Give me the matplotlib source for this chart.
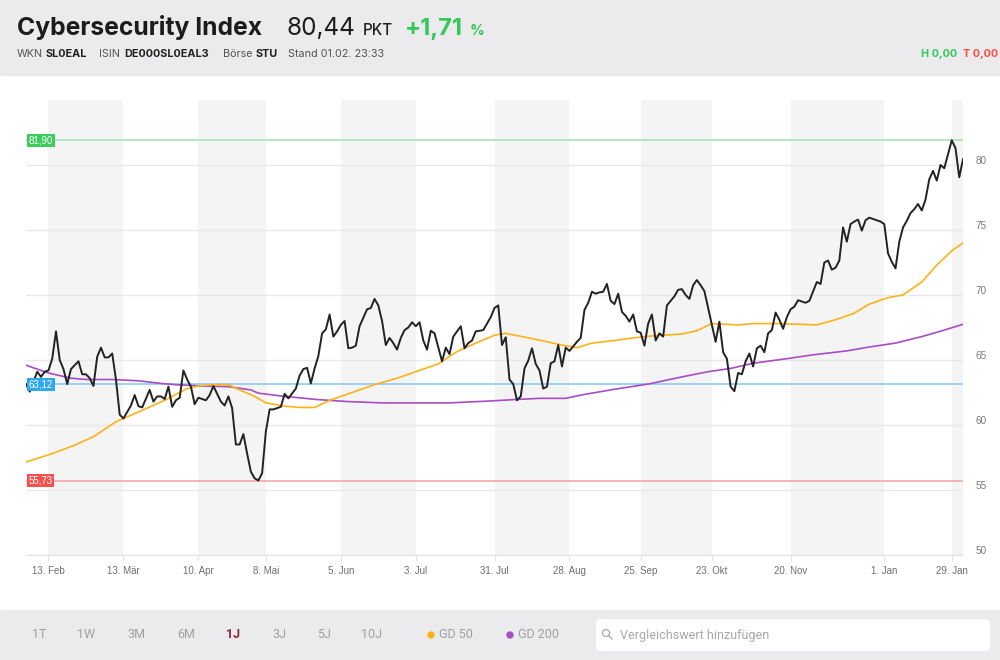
import numpy as np
import matplotlib
matplotlib.use('Agg')
import matplotlib.pyplot as plt
import matplotlib.transforms as mtransforms
from matplotlib.patches import Rectangle, FancyBboxPatch, Circle
from matplotlib.lines import Line2D

# --- data (trading-day index, value) ---
close_pts = [
    (0, 63.15), (1, 62.56), (3, 64.1), (4, 63.7), (5, 64.1), (6, 64.2), (7, 65.1), (8, 67.2), (9, 65.0), (10, 64.3),
    (11, 63.15), (12, 64.3), (14, 64.9), (15, 63.9), (16, 63.9), (17, 63.6), (18, 63.0), (19, 65.25), (20, 65.95), (21, 65.2),
    (22, 65.2), (23, 65.5), (24, 63.5), (25, 60.8), (26, 60.5), (28, 61.5), (29, 62.3), (30, 61.45), (31, 61.35), (33, 62.7),
    (34, 61.8), (35, 62.2), (36, 62.2), (37, 62.0), (38, 62.95), (39, 61.4), (40, 61.9), (41, 62.1), (42, 64.2), (43, 63.5),
    (44, 62.95), (45, 61.6), (46, 62.1), (47, 62.0), (48, 61.9), (49, 62.3), (50, 63.0), (51, 62.4), (52, 61.8), (53, 61.5),
    (54, 62.2), (55, 61.3), (56, 58.5), (57, 58.5), (58, 59.3), (59, 57.8), (60, 56.4), (61, 55.9), (62, 55.73), (63, 56.3),
    (64, 59.5), (65, 61.2), (66, 61.2), (67, 61.3), (68, 61.4), (69, 62.4), (70, 62.05), (72, 62.8), (73, 63.8), (74, 64.3),
    (75, 64.4), (76, 63.2), (77, 64.35), (78, 65.3), (79, 67.05), (80, 67.35), (81, 68.5), (82, 66.8), (83, 67.2), (84, 67.7),
    (85, 68.0), (86, 65.9), (87, 65.95), (88, 66.1), (89, 67.6), (91, 68.9), (92, 69.0), (93, 69.7), (94, 69.2), (95, 68.0),
    (96, 66.15), (97, 66.7), (98, 66.3), (99, 65.8), (100, 66.7), (101, 67.3), (102, 67.5), (103, 67.9), (104, 67.6), (105, 67.9),
    (106, 66.5), (107, 65.8), (108, 67.25), (109, 67.05), (111, 64.9), (112, 65.95), (113, 65.45), (114, 66.8), (115, 67.2), (116, 67.6),
    (117, 65.9), (118, 66.3), (119, 66.5), (120, 67.2), (122, 67.3), (123, 67.8), (124, 68.3), (125, 69.0), (126, 69.2), (127, 66.15),
    (128, 66.75), (129, 63.5), (130, 63.15), (131, 61.9), (132, 62.2), (133, 64.35), (134, 64.95), (135, 65.9), (136, 64.7), (137, 64.2),
    (138, 62.8), (139, 62.95), (140, 64.75), (141, 64.9), (142, 66.15), (143, 64.5), (144, 65.95), (145, 65.7), (147, 66.4), (148, 66.7),
    (149, 68.85), (150, 69.4), (151, 70.25), (152, 70.1), (153, 70.2), (154, 70.25), (155, 70.85), (156, 69.55), (157, 69.3), (158, 70.1),
    (159, 68.7), (160, 68.4), (161, 67.95), (162, 68.5), (163, 67.2), (164, 67.1), (165, 66.1), (166, 67.8), (167, 68.5), (168, 66.5),
    (169, 67.05), (170, 66.8), (171, 69.2), (173, 69.9), (174, 70.4), (175, 70.45), (176, 70.0), (177, 69.7), (178, 70.75), (179, 71.15),
    (180, 70.75), (181, 70.3), (183, 67.7), (184, 66.4), (185, 67.95), (186, 65.6), (187, 65.1), (188, 62.95), (189, 62.6), (190, 64.0),
    (191, 63.9), (192, 64.9), (193, 65.5), (194, 64.5), (195, 65.9), (196, 66.1), (197, 65.6), (198, 67.05), (199, 67.3), (200, 68.65),
    (201, 68.1), (202, 67.4), (203, 68.3), (204, 68.9), (205, 69.1), (206, 69.6), (207, 69.5), (208, 69.4), (209, 69.55), (211, 71.0),
    (212, 70.85), (213, 72.5), (214, 72.65), (215, 71.95), (216, 72.1), (217, 72.65), (218, 75.2), (219, 74.1), (220, 75.45), (221, 75.65),
    (222, 75.8), (223, 74.95), (224, 75.75), (225, 75.95), (227, 75.75), (228, 75.65), (229, 75.45), (230, 73.2), (231, 72.55), (232, 72.05),
    (233, 74.1), (234, 75.2), (235, 75.7), (236, 76.3), (237, 76.6), (238, 77.0), (239, 76.5), (240, 77.35), (241, 78.9), (242, 79.55),
    (243, 78.8), (244, 80.0), (245, 79.75), (247, 81.9), (248, 81.3), (249, 79.05), (250, 80.44),
]

gd50_pts = [
    (0, 57.15), (7, 57.8), (13, 58.45), (18, 59.1), (24, 60.25), (30, 61.0), (37, 61.9), (43, 62.8), (46, 63.0), (50, 63.1),
    (54, 63.1), (57, 62.7), (61, 62.2), (64, 61.7), (69, 61.45), (73, 61.35), (77, 61.35), (81, 61.9), (86, 62.4), (93, 63.1),
    (99, 63.6), (104, 64.1), (110, 64.7), (115, 65.65), (120, 66.3), (125, 66.9), (128, 67.05), (135, 66.65), (139, 66.4), (143, 66.15),
    (147, 65.95), (151, 66.3), (157, 66.5), (162, 66.7), (167, 66.85), (175, 67.0), (179, 67.25), (183, 67.8), (190, 67.7), (194, 67.8),
    (201, 67.8), (206, 67.75), (211, 67.7), (216, 68.1), (221, 68.6), (225, 69.3), (230, 69.8), (234, 70.0), (239, 71.0), (243, 72.3),
    (247, 73.4), (250, 74.0),
]

gd200_pts = [
    (0, 64.6), (6, 64.0), (12, 63.6), (16, 63.5), (23, 63.5), (30, 63.4), (36, 63.2), (40, 63.1), (47, 63.0), (54, 62.95),
    (60, 62.7), (62, 62.45), (69, 62.2), (78, 61.95), (86, 61.8), (95, 61.7), (104, 61.7), (113, 61.7), (124, 61.85), (130, 61.95),
    (137, 62.05), (144, 62.05), (148, 62.3), (157, 62.75), (166, 63.15), (175, 63.7), (182, 64.1), (188, 64.35), (194, 64.75), (203, 65.1),
    (210, 65.4), (219, 65.7), (225, 66.0), (232, 66.3), (239, 66.8), (245, 67.3), (250, 67.75),
]

tick_days = [6, 26, 46, 64, 84, 104, 125, 145, 164, 183, 204, 229, 247]
tick_labels = ["13. Feb", "13. Mär", "10. Apr", "8. Mai", "5. Jun", "3. Jul", "31. Jul",
               "28. Aug", "25. Sep", "23. Okt", "20. Nov", "1. Jan", "29. Jan"]

high_val, ref_val, low_val = 81.90, 63.12, 55.73

# --- figure ---
W, H = 1000, 660
fig = plt.figure(figsize=(10, 6.6), dpi=100, facecolor='white')
ident = mtransforms.IdentityTransform()

def fx(x):
    return x / W

def fy(y):
    return 1 - y / H

# header and footer bars
fig.add_artist(Rectangle((0, 660 - 75), 1000, 75, transform=ident, color='#EBEBED', zorder=0))
fig.add_artist(Rectangle((0, 0), 1000, 50, transform=ident, color='#EBEBED', zorder=0))

ax = fig.add_axes([fx(26), 105 / H, (963 - 26) / W, 455 / H])
ax.set_xlim(0, 250)
ax.set_ylim(50, 85)
ax.set_facecolor('white')

# alternating month bands
edges = tick_days + [250]
for i in range(0, len(tick_days), 2):
    ax.axvspan(edges[i], edges[i + 1], color='#F4F4F4', lw=0, zorder=0)

ax.set_yticks([50, 55, 60, 65, 70, 75, 80])
ax.yaxis.tick_right()
ax.grid(axis='y', color='#E9E9E9', lw=1, zorder=1)
ax.tick_params(axis='y', length=0, pad=9, labelsize=7.2, labelcolor='#7A7A7A')
for lab in ax.get_yticklabels():
    lab.set_fontfamily('Liberation Sans')
    lab.set_transform(lab.get_transform() + mtransforms.ScaledTranslation(0, 5 / 100, fig.dpi_scale_trans))

ax.set_xticks(tick_days)
ax.set_xticklabels(tick_labels, fontfamily='Liberation Sans')
ax.tick_params(axis='x', length=4, color='#E3E3E3', pad=4, labelsize=7, labelcolor='#6E6E6E')

for s in ['top', 'left', 'right']:
    ax.spines[s].set_visible(False)
ax.spines['bottom'].set_color('#E3E3E3')

# reference lines
ax.axhline(high_val, color='#A7E5B5', lw=1.2, zorder=2)
ax.axhline(ref_val, color='#8ACBF6', lw=1.2, zorder=2)
ax.axhline(low_val, color='#F6A9A9', lw=1.2, zorder=2)

d200, v200 = zip(*gd200_pts)
d50, v50 = zip(*gd50_pts)
dc, vc = zip(*close_pts)
ax.plot(d200, v200, color='#A84CC6', lw=1.2, zorder=3)
ax.plot(d50, v50, color='#FBB315', lw=1.2, zorder=3)
ax.plot(dc, vc, color='#222222', lw=1.4, zorder=4)

blend = mtransforms.blended_transform_factory(ax.transAxes, ax.transData)
for val, col in [(high_val, '#3DCB5C'), (ref_val, '#2CA8F0'), (low_val, '#F4514E')]:
    ax.text(0.003, val, f"{val:.2f}".replace('.', ','), transform=blend, ha='left', va='center',
            fontsize=7, color='white', fontfamily='Liberation Sans', zorder=6,
            bbox=dict(boxstyle='square,pad=0.15', fc=col, ec='none'))

# --- header ---
hf = 'Inter'
fig.text(fx(17), fy(35), "Cybersecurity Index", fontsize=17.8, fontweight='bold', color='#1C1C1E',
         fontfamily=hf, va='baseline')
fig.text(fx(287), fy(35), "80,44", fontsize=17.5, color='#1C1C1E', fontfamily=hf, va='baseline')
fig.text(fx(363), fy(35), "PKT", fontsize=11, fontweight='medium', color='#1C1C1E', fontfamily=hf, va='baseline')
fig.text(fx(405), fy(35), "+1,71", fontsize=17, fontweight='bold', color='#34C759', fontfamily=hf, va='baseline')
fig.text(fx(470), fy(35), "%", fontsize=10.5, fontweight='bold', color='#34C759', fontfamily=hf, va='baseline')

sub = [(17, "WKN", False), (46, "SL0EAL", True), (99, "ISIN", False), (124, "DE000SL0EAL3", True),
       (223, "Börse", False), (256, "STU", True), (288, "Stand 01.02. 23:33", False)]
for x, s, b in sub:
    fig.text(fx(x), fy(57), s, fontsize=7.8, fontweight='bold' if b else 'normal',
             color='#222222' if b else '#555555', fontfamily=hf, va='baseline')
fig.text(fx(957), fy(57), "H 0,00", fontsize=7.8, fontweight='bold', color='#34C759', fontfamily=hf,
         va='baseline', ha='right')
fig.text(fx(998), fy(57), "T 0,00", fontsize=7.8, fontweight='bold', color='#FF4B43', fontfamily=hf,
         va='baseline', ha='right')

# --- footer ---
ff = 'Roboto'
tabs = [(39.5, "1T"), (86, "1W"), (136, "3M"), (186, "6M"), (233, "1J"), (279, "3J"), (324, "5J"), (372, "10J")]
for x, s in tabs:
    active = s == "1J"
    fig.text(fx(x), fy(635), s, fontsize=9, ha='center', va='center', fontfamily=ff,
             color='#9B1B34' if active else '#A0A0A0', fontweight='bold' if active else 'normal')
fig.add_artist(Circle((431, 660 - 635), 3, transform=ident, color='#FBB315'))
fig.text(fx(439), fy(635), "GD 50", fontsize=9, va='center', fontfamily=ff, color='#A0A0A0')
fig.add_artist(Circle((510, 660 - 635), 3, transform=ident, color='#A84CC6'))
fig.text(fx(518), fy(635), "GD 200", fontsize=9, va='center', fontfamily=ff, color='#A0A0A0')

fig.add_artist(FancyBboxPatch((596, 660 - 651), 394, 32, boxstyle='round,pad=0,rounding_size=5',
                              transform=ident, fc='white', ec='none'))
fig.add_artist(Circle((606, 660 - 633), 3.5, transform=ident, fc='none', ec='#A8A8A8', lw=0.9))
fig.add_artist(Line2D([608.5, 612], [660 - 635.5, 660 - 639], transform=ident, color='#A8A8A8', lw=0.9))
fig.text(fx(620), fy(635), "Vergleichswert hinzufügen", fontsize=9, va='center', fontfamily=ff, color='#A8A8A8')

fig.savefig('out.png', dpi=100, facecolor=fig.get_facecolor())
